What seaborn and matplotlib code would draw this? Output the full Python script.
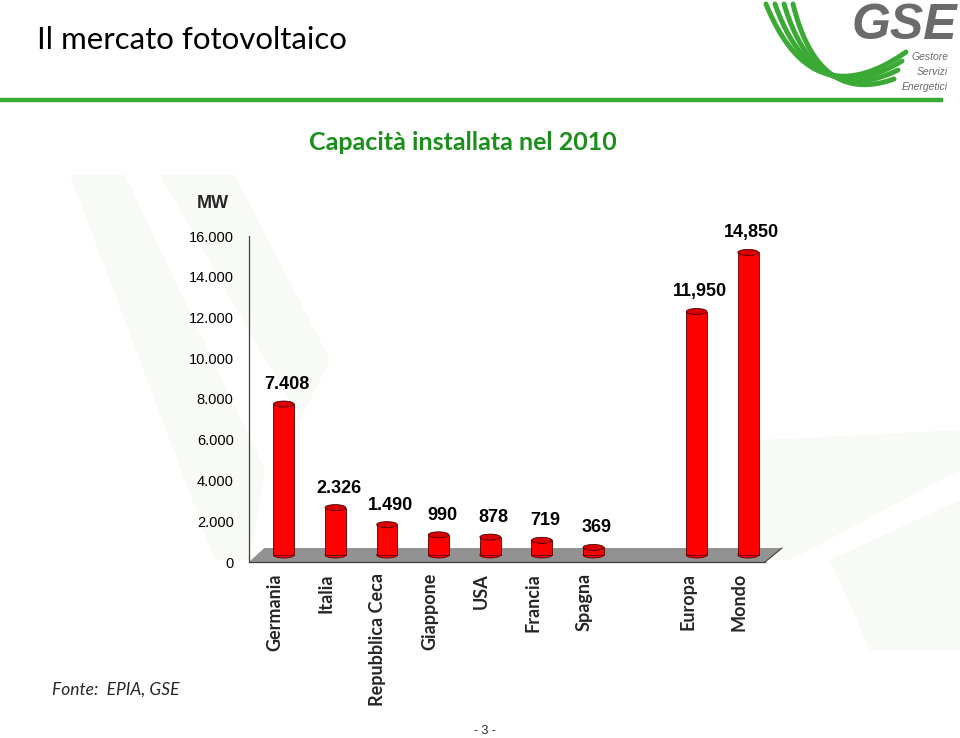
import matplotlib
matplotlib.use("Agg")
import matplotlib.pyplot as plt
import matplotlib.transforms as mtransforms
from matplotlib.patches import Ellipse, Polygon
import numpy as np
import pandas as pd
import seaborn as sns

# data (MW installed in 2010)
paesi = ["Germania", "Italia", "Repubblica Ceca", "Giappone", "USA",
         "Francia", "Spagna", "", "Europa", "Mondo"]
capacita = [7408, 2326, 1490, 990, 878, 719, 369, np.nan, 11950, 14850]
etichette = ["7.408", "2.326", "1.490", "990", "878", "719", "369", "",
             "11,950", "14,850"]
yticks = [0, 2000, 4000, 6000, 8000, 10000, 12000, 14000, 16000]
ytick_labels = ["0", "2.000", "4.000", "6.000", "8.000", "10.000",
                "12.000", "14.000", "16.000"]

RED = "#ff0000"
GREEN = "#3aaa35"
TITLE_GREEN = "#1b8e1b"

sns.set_style("white")
plt.rcParams["font.family"] = ["Liberation Sans", "DejaVu Sans"]

W, H = 960, 738
fig = plt.figure(figsize=(W / 100, H / 100), dpi=100)


def fx(px):
    return px / W


def fy(py):
    return 1 - py / H


# faint watermark swooshes in the background
bg = fig.add_axes([0, 0, 1, 1], zorder=-5)
bg.set_xlim(0, W)
bg.set_ylim(H, 0)
bg.axis("off")
for poly in [
    [(70, 175), (125, 175), (265, 470), (250, 560), (215, 560)],
    [(160, 175), (235, 175), (330, 360), (300, 420)],
    [(760, 440), (960, 430), (960, 470), (790, 560), (760, 560)],
    [(830, 560), (960, 500), (960, 650), (870, 650)],
]:
    bg.add_patch(Polygon(poly, closed=True, facecolor="#f8faf6",
                         edgecolor="none"))

# header
fig.text(fx(37), fy(40), "Il mercato fotovoltaico", fontsize=22.5,
         family=["Lato", "DejaVu Sans"], va="center", ha="left", color="black")
bg.plot([0, 943], [100, 100], color=GREEN, lw=3.2, solid_capstyle="butt")

# GSE logo (approximation)
t = np.linspace(0, 1, 60)
for k in range(4):
    p0 = np.array([766 + 9 * k, 4])
    p1 = np.array([812 + 2 * k, 118 - 4 * k])
    p2 = np.array([906 - 4 * k, 52 + 9 * k])
    curve = ((1 - t) ** 2)[:, None] * p0 + (2 * (1 - t) * t)[:, None] * p1 \
        + (t ** 2)[:, None] * p2
    bg.plot(curve[:, 0], curve[:, 1], color=GREEN, lw=3.6,
            solid_capstyle="round")
fig.text(fx(957), fy(26), "GSE", fontsize=36, fontweight="bold",
         fontstyle="italic", color="#6b6b6d", ha="right", va="center")
for i, word in enumerate(["Gestore", "Servizi", "Energetici"]):
    fig.text(fx(948), fy(57 + 15 * i), word, fontsize=7.5, fontstyle="italic",
             color="#6b6b6d", ha="right", va="center")

# chart title
fig.text(fx(463), fy(142), "Capacità installata nel 2010", fontsize=18,
         fontweight="bold", family=["Lato", "DejaVu Sans"], color=TITLE_GREEN,
         ha="center", va="center")

# main axes
ax_left, ax_right, ax_top, ax_bottom = 249, 765, 236, 562
ax = fig.add_axes([fx(ax_left), fy(ax_bottom), fx(ax_right - ax_left),
                   (ax_bottom - ax_top) / H])
ax.patch.set_alpha(0)

df = pd.DataFrame({"paese": paesi, "mw": capacita})
sns.barplot(data=df, x="paese", y="mw", order=paesi, color=RED,
            saturation=1, width=0.4, errorbar=None, edgecolor="#5a0000",
            linewidth=0.6, ax=ax, zorder=3)

ax.set_xlim(-0.5, len(paesi) - 0.5)
ax.set_ylim(0, 16000)

# depth shift for the pseudo-3D bars (pixels)
shift = mtransforms.ScaledTranslation(0.09, 0.07, fig.dpi_scale_trans)
bar_tr = ax.transData + shift
ell_h = 6 * 16000 / (ax_bottom - ax_top)
for patch in ax.patches:
    patch.set_transform(bar_tr)

for i, (v, lab) in enumerate(zip(capacita, etichette)):
    if np.isnan(v):
        continue
    ax.add_patch(Ellipse((i, 0), 0.4, ell_h, facecolor=RED,
                         edgecolor="#5a0000", lw=0.6, transform=bar_tr,
                         zorder=2.5))
    ax.add_patch(Ellipse((i, v), 0.4, ell_h, facecolor="#d80000",
                         edgecolor="#4a0000", lw=0.6, transform=bar_tr,
                         zorder=4))
    ax.annotate(lab, xy=(i, v), xytext=(9, 13), textcoords="offset points",
                ha="center", va="bottom", fontsize=13, fontweight="bold",
                color="black", zorder=5)

# gray floor of the 3D chart
dx, dy = 17 / (ax_right - ax_left), 14 / (ax_bottom - ax_top)
ax.add_patch(Polygon([(0, 0), (1, 0), (1 + dx, dy), (dx * 0.9, dy)],
                     closed=True, transform=ax.transAxes, facecolor="#929292",
                     edgecolor="none", clip_on=False, zorder=1))
ax.plot([1, 1 + dx], [0, dy], transform=ax.transAxes, color="#404040",
        lw=0.8, clip_on=False, zorder=1.5)

# axes styling
for side in ["top", "right"]:
    ax.spines[side].set_visible(False)
ax.spines["left"].set_color("#404040")
ax.spines["bottom"].set_color("#404040")
ax.spines["left"].set_linewidth(0.9)
ax.spines["bottom"].set_linewidth(0.9)

ax.set_yticks(yticks)
ax.set_yticklabels(ytick_labels)
ax.tick_params(axis="y", length=3, width=0.8, color="#404040", pad=8,
               labelsize=10.5, labelcolor="black")

ax.set_xticks(range(len(paesi)))
ax.set_xticklabels(paesi, rotation=90, fontsize=13, fontweight="bold",
                   family=["Lato", "DejaVu Sans"])
ax.set_xticks(np.arange(-0.5, len(paesi)), minor=True)
ax.tick_params(axis="x", which="major", length=0, pad=8)
ax.tick_params(axis="x", which="minor", length=5, width=0.8, color="#606060")
ax.set_xlabel("")
ax.set_ylabel("")

fig.text(fx(213), fy(203), "MW", fontsize=13, fontweight="bold",
         ha="center", va="center")

# footer
fig.text(fx(52), fy(690), "Fonte:  EPIA, GSE", fontsize=12.5,
         fontstyle="italic", family=["Lato", "DejaVu Sans"], ha="left",
         va="center")
fig.text(fx(485), fy(731), "- 3 -", fontsize=9, ha="center", va="center")

fig.savefig("out.png", dpi=100)
